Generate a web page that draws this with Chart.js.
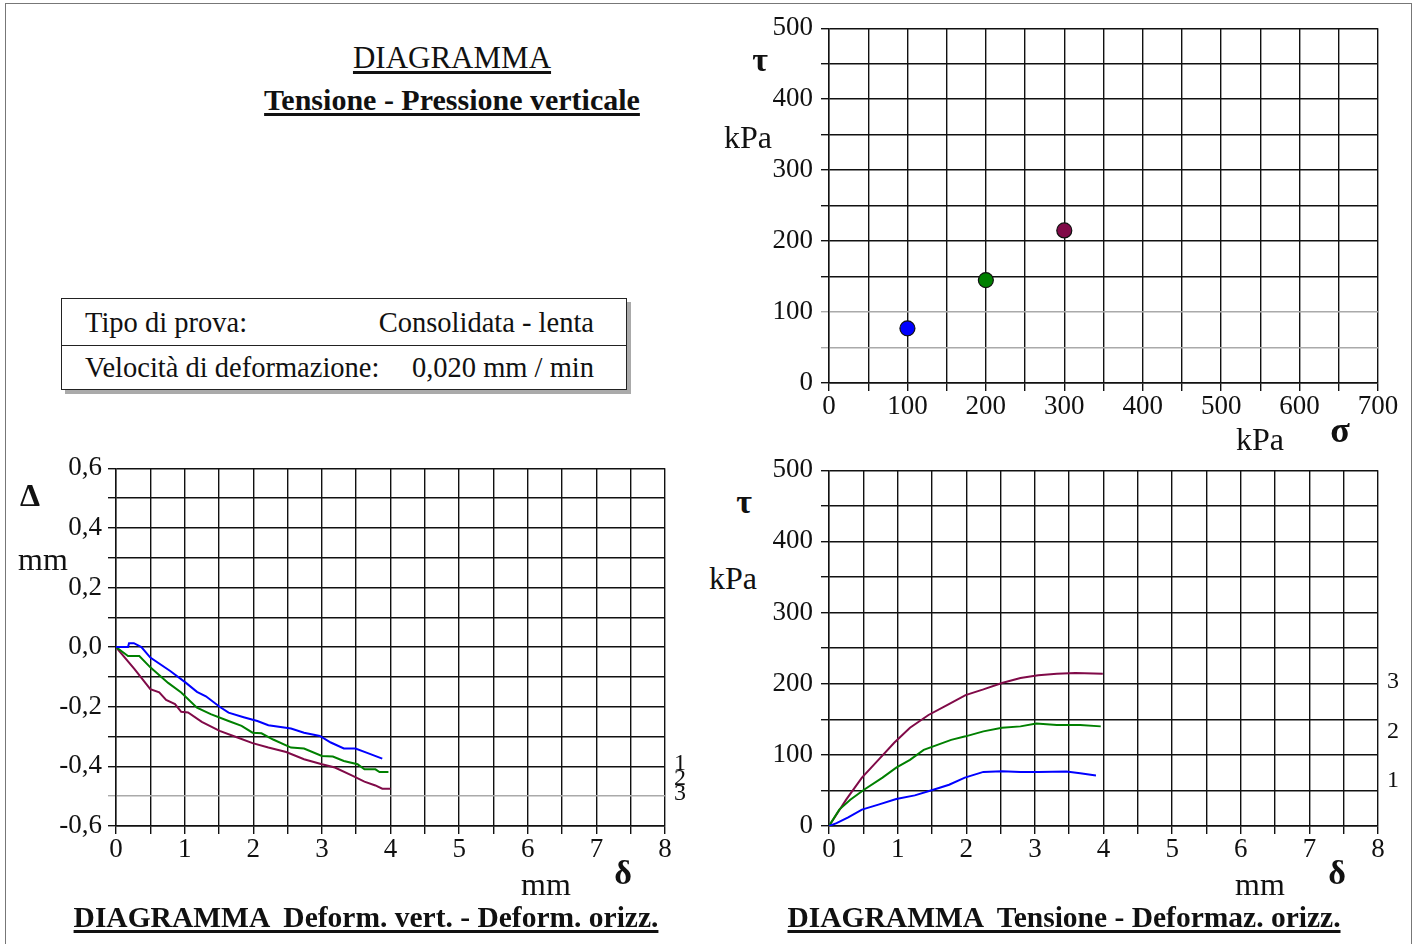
<!DOCTYPE html>
<html>
<head>
<meta charset="utf-8">
<script src="https://cdn.jsdelivr.net/npm/chart.js@4.4.1/dist/chart.umd.min.js"></script>
<style>
  body { margin: 0; background: #fff; width: 1418px; height: 944px; overflow: hidden; position: relative;
         font-family: "Liberation Serif", "DejaVu Serif", serif; color: #111; }
  .frame { position: absolute; left: 5px; top: 3px; width: 1405px; height: 980px; border: 1.5px solid #777; }
  canvas { position: absolute; }
  .t { position: absolute; white-space: pre; line-height: 1; }
  .c { transform: translateX(-50%); }
  .u { text-decoration: underline; text-decoration-thickness: 2.5px; text-underline-offset: 3px; }
  .box { position: absolute; left: 61px; top: 298px; width: 564px; height: 90px; border: 1.5px solid #222;
         box-shadow: 4px 4px 0 #aaa; }
  .box .row { position: absolute; left: 0; right: 0; height: 46px; font-size: 28.5px; }
  .box .row span { position: absolute; top: 8px; }
</style>
</head>
<body>
<div class="frame"></div>

<canvas id="tauSigma" style="left:760px;top:4px" width="650" height="436"></canvas>
<canvas id="vertHoriz" style="left:10px;top:446px" width="690" height="444"></canvas>
<canvas id="tauDelta" style="left:760px;top:446px" width="650" height="444"></canvas>

<div class="t c u" style="left:452px;top:42px;font-size:31px">DIAGRAMMA</div>
<div class="t c u" style="left:452px;top:85px;font-size:30px;font-weight:bold">Tensione - Pressione verticale</div>

<div class="box">
  <div class="row" style="top:0;border-bottom:1.5px solid #222"><span style="left:23px">Tipo di prova:</span><span style="right:32px">Consolidata - lenta</span></div>
  <div class="row" style="top:47px"><span style="left:23px;top:6px">Velocità di deformazione:</span><span style="right:32px;top:6px">0,020 mm / min</span></div>
</div>

<!-- top right labels -->
<div class="t c" style="left:760px;top:43px;font-size:34px;font-weight:bold">τ</div>
<div class="t c" style="left:748px;top:121px;font-size:32px">kPa</div>
<div class="t c" style="left:1260px;top:423px;font-size:32px">kPa</div>
<div class="t c" style="left:1340px;top:412px;font-size:36px;font-weight:bold">σ</div>

<!-- bottom left labels -->
<div class="t c" style="left:30px;top:479px;font-size:32px;font-weight:bold">Δ</div>
<div class="t c" style="left:43px;top:543px;font-size:32px">mm</div>
<div class="t c" style="left:546px;top:868px;font-size:32px">mm</div>
<div class="t c" style="left:623px;top:856px;font-size:34px;font-weight:bold">δ</div>
<div class="t c" style="left:680px;top:750px;font-size:24px">1</div>
<div class="t c" style="left:680px;top:765px;font-size:24px">2</div>
<div class="t c" style="left:680px;top:780px;font-size:24px">3</div>
<div class="t c u" style="left:366px;top:903px;font-size:29.5px;font-weight:bold">DIAGRAMMA  Deform. vert. - Deform. orizz.</div>

<!-- bottom right labels -->
<div class="t c" style="left:744px;top:485px;font-size:34px;font-weight:bold">τ</div>
<div class="t c" style="left:733px;top:562px;font-size:32px">kPa</div>
<div class="t c" style="left:1260px;top:868px;font-size:32px">mm</div>
<div class="t c" style="left:1337px;top:856px;font-size:34px;font-weight:bold">δ</div>
<div class="t c" style="left:1393px;top:668px;font-size:24px">3</div>
<div class="t c" style="left:1393px;top:718px;font-size:24px">2</div>
<div class="t c" style="left:1393px;top:767px;font-size:24px">1</div>
<div class="t c u" style="left:1064px;top:903px;font-size:29.5px;font-weight:bold">DIAGRAMMA  Tensione - Deformaz. orizz.</div>

<script>
Chart.defaults.font.family = '"Liberation Serif", "DejaVu Serif", serif';
Chart.defaults.color = '#111';
Chart.defaults.animation = false;

const blue = '#0000ff';
const green = '#008000';
const purple = '#800a48';

// tau - sigma (peak values)
const sigmaVals = [100, 200, 300];
const tauPeak = [77, 145, 215];
const peakColors = [blue, green, purple];

// vertical vs horizontal deformation (mm)
const vertX1 = [0, 0.175, 0.19, 0.26, 0.37, 0.5, 0.79, 1.02, 1.18, 1.31, 1.51, 1.64, 1.86, 2.06, 2.22, 2.55, 2.74, 2.97, 3.13, 3.32, 3.49, 3.65, 3.88];
const vertY1 = [0, 0, 0.013, 0.013, 0, -0.035, -0.08, -0.12, -0.15, -0.165, -0.2, -0.22, -0.235, -0.248, -0.262, -0.273, -0.287, -0.298, -0.32, -0.34, -0.34, -0.354, -0.374];
const vertX2 = [0, 0.175, 0.34, 0.5, 0.76, 0.95, 1.18, 1.38, 1.64, 1.83, 1.99, 2.12, 2.29, 2.55, 2.74, 3.0, 3.16, 3.32, 3.52, 3.62, 3.78, 3.84, 3.97];
const vertY2 = [0, -0.03, -0.03, -0.068, -0.12, -0.152, -0.203, -0.225, -0.248, -0.264, -0.287, -0.289, -0.31, -0.337, -0.34, -0.365, -0.367, -0.382, -0.393, -0.41, -0.41, -0.419, -0.419];
const vertX3 = [0, 0.27, 0.5, 0.63, 0.73, 0.86, 0.95, 1.05, 1.25, 1.51, 1.77, 1.99, 2.22, 2.48, 2.74, 3.0, 3.19, 3.45, 3.62, 3.78, 3.88, 4.0];
const vertY3 = [0, -0.074, -0.141, -0.152, -0.177, -0.191, -0.217, -0.219, -0.251, -0.281, -0.303, -0.322, -0.337, -0.352, -0.376, -0.393, -0.404, -0.432, -0.451, -0.464, -0.475, -0.475];

// shear stress vs horizontal deformation
const shearX1 = [0, 0.11, 0.28, 0.48, 0.72, 0.98, 1.25, 1.52, 1.75, 1.98, 2.25, 2.52, 2.79, 3.05, 3.46, 3.66, 3.89];
const shearY1 = [0, 4, 12, 23, 30, 38, 43, 51, 58, 68, 76, 77, 76, 76, 76.5, 74, 71];
const shearX2 = [0, 0.15, 0.31, 0.51, 0.78, 0.98, 1.18, 1.38, 1.58, 1.78, 1.99, 2.25, 2.52, 2.79, 3.02, 3.32, 3.66, 3.96];
const shearY2 = [0, 23, 37, 51, 68, 82, 93, 107, 114, 121, 126, 133, 138, 140, 144, 142, 142, 140];
const shearX3 = [0, 0.25, 0.48, 0.72, 0.95, 1.18, 1.45, 1.72, 1.99, 2.25, 2.52, 2.79, 3.05, 3.32, 3.59, 3.99];
const shearY3 = [0, 37, 68, 93, 117, 138, 156, 170, 184, 192, 201, 208, 212, 214, 215, 214];

function pts(xs, ys) {
  return xs.map((x, i) => ({ x: x, y: ys[i] }));
}

function fixWidth(w) {
  return function(scale) { scale.width = w; };
}
function fixHeight(h) {
  return function(scale) { scale.height = h; };
}

const tickFont = { size: 27 };

function lineSet(data, color) {
  return { data: data, borderColor: color, borderWidth: 2, pointRadius: 0, tension: 0, fill: false };
}

new Chart(document.getElementById('tauSigma'), {
  type: 'scatter',
  data: {
    datasets: [{
      data: pts(sigmaVals, tauPeak),
      pointRadius: 7.5,
      pointBackgroundColor: peakColors,
      pointBorderColor: '#111',
      pointBorderWidth: 1.2
    }]
  },
  options: {
    responsive: false,
    layout: { padding: { top: 14, right: 32, left: 0, bottom: 0 } },
    plugins: { legend: { display: false }, tooltip: { enabled: false } },
    scales: {
      x: {
        type: 'linear', min: 0, max: 700,
        ticks: { stepSize: 50, autoSkip: false, maxRotation: 0, padding: 0, font: tickFont,
                 callback: v => (v % 100 === 0 ? v : '') },
        grid: { color: '#111', lineWidth: 1.4, tickLength: 8 },
        border: { color: '#111', width: 1.4 },
        afterFit: fixHeight(57)
      },
      y: {
        type: 'linear', min: 0, max: 500,
        ticks: { stepSize: 50, autoSkip: false, padding: 8, font: tickFont,
                 callback: v => (v % 100 === 0 ? v : '') },
        grid: { color: ctx => (ctx.tick && (ctx.tick.value === 50 || ctx.tick.value === 100) ? '#aaa' : '#111'),
                lineWidth: 1.4, tickLength: 8 },
        border: { color: '#111', width: 1.4 },
        afterFit: fixWidth(69)
      }
    }
  }
});

new Chart(document.getElementById('vertHoriz'), {
  type: 'scatter',
  data: {
    datasets: [
      lineSet(pts(vertX1, vertY1), blue),
      lineSet(pts(vertX2, vertY2), green),
      lineSet(pts(vertX3, vertY3), purple)
    ]
  },
  options: {
    responsive: false,
    showLine: true,
    layout: { padding: { top: 19, right: 35, left: 0, bottom: 0 } },
    plugins: { legend: { display: false }, tooltip: { enabled: false } },
    scales: {
      x: {
        type: 'linear', min: 0, max: 8,
        ticks: { stepSize: 0.5, autoSkip: false, maxRotation: 0, padding: 0, font: tickFont,
                 callback: v => (Math.abs(v - Math.round(v)) < 1e-6 ? Math.round(v) : '') },
        grid: { color: '#111', lineWidth: 1.4, tickLength: 8 },
        border: { color: '#111', width: 1.4 },
        afterFit: fixHeight(64)
      },
      y: {
        type: 'linear', min: -0.6, max: 0.6,
        ticks: { stepSize: 0.1, autoSkip: false, padding: 6, font: tickFont,
                 callback: v => {
                   const k = Math.round(v * 10);
                   return k % 2 === 0 ? (k / 10).toFixed(1).replace('.', ',') : '';
                 } },
        grid: { color: ctx => (ctx.tick && Math.round(ctx.tick.value * 10) === -5 ? '#aaa' : '#111'),
                lineWidth: 1.4, tickLength: 8 },
        border: { color: '#111', width: 1.4 },
        afterFit: fixWidth(106)
      }
    }
  }
});

new Chart(document.getElementById('tauDelta'), {
  type: 'scatter',
  data: {
    datasets: [
      lineSet(pts(shearX1, shearY1), blue),
      lineSet(pts(shearX2, shearY2), green),
      lineSet(pts(shearX3, shearY3), purple)
    ]
  },
  options: {
    responsive: false,
    showLine: true,
    layout: { padding: { top: 19, right: 32, left: 0, bottom: 0 } },
    plugins: { legend: { display: false }, tooltip: { enabled: false } },
    scales: {
      x: {
        type: 'linear', min: 0, max: 8,
        ticks: { stepSize: 0.5, autoSkip: false, maxRotation: 0, padding: 0, font: tickFont,
                 callback: v => (Math.abs(v - Math.round(v)) < 1e-6 ? Math.round(v) : '') },
        grid: { color: '#111', lineWidth: 1.4, tickLength: 8 },
        border: { color: '#111', width: 1.4 },
        afterFit: fixHeight(64)
      },
      y: {
        type: 'linear', min: 0, max: 500,
        ticks: { stepSize: 50, autoSkip: false, padding: 8, font: tickFont,
                 callback: v => (v % 100 === 0 ? v : '') },
        grid: { color: '#111', lineWidth: 1.4, tickLength: 8 },
        border: { color: '#111', width: 1.4 },
        afterFit: fixWidth(69)
      }
    }
  }
});
</script>
</body>
</html>
